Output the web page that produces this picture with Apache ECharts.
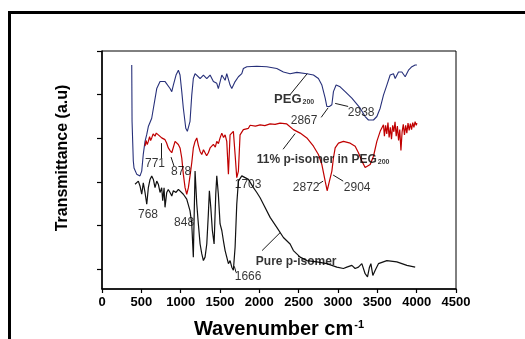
<!DOCTYPE html>
<html>
<head>
<meta charset="utf-8">
<script src="https://cdn.jsdelivr.net/npm/echarts@6/dist/echarts.min.js"></script>
<style>
html,body{margin:0;padding:0;background:#fff;}
#chart{width:525px;height:339px;}
</style>
</head>
<body>
<div id="chart"></div>
<script>
// ---- data (wavenumber cm-1, transmittance a.u.) ----
var xTicks = [0, 500, 1000, 1500, 2000, 2500, 3000, 3500, 4000, 4500];
var yTicks = [0, 1, 2, 3, 4, 5];

var pegSpectrum = [
  [378,4.68],[382,3.39],[398,2.48],[407,2.32],[441,2.18],[483,2.14],[505,2.25],[525,2.64],
  [547,2.93],[569,3.09],[589,3.27],[632,3.46],[696,4.14],[738,4.30],[802,4.30],[865,4.14],
  [887,4.07],[907,4.22],[941,4.45],[971,4.56],[992,4.45],[1014,4.07],[1034,3.69],[1065,3.23],
  [1085,3.16],[1119,3.39],[1141,3.99],[1161,4.37],[1183,4.48],[1205,4.45],[1247,4.37],[1289,4.45],
  [1332,4.37],[1374,4.45],[1416,4.30],[1459,4.26],[1479,4.14],[1523,4.45],[1565,4.33],[1586,4.48],
  [1628,4.22],[1650,4.14],[1692,4.30],[1734,4.41],[1777,4.48],[1797,4.60],[1841,4.64],[1968,4.65],
  [2095,4.64],[2222,4.60],[2306,4.52],[2391,4.48],[2477,4.51],[2604,4.48],[2688,4.45],[2751,4.37],
  [2795,4.22],[2837,3.92],[2858,3.73],[2891,3.73],[2922,3.77],[2942,4.07],[2976,4.22],[3027,4.18],
  [3091,4.07],[3176,3.92],[3282,3.69],[3345,3.50],[3387,3.42],[3451,3.42],[3494,3.50],[3536,3.69],
  [3578,3.99],[3621,4.22],[3663,4.45],[3705,4.48],[3727,4.37],[3769,4.52],[3812,4.52],[3854,4.41],
  [3896,4.56],[3939,4.64],[3981,4.68],[4003,4.68]
];

var mixSpectrum = [
  [547,2.82],[560,2.95],[575,2.86],[589,2.93],[605,3.04],[618,2.95],[632,3.01],[650,3.10],[674,3.05],
  [690,3.12],[716,3.08],[738,3.05],[759,3.01],[780,3.04],[801,2.97],[820,2.90],[843,2.78],[865,2.72],
  [887,2.67],[929,2.93],[950,2.97],[970,2.86],[992,2.78],[1014,2.55],[1034,2.18],[1056,1.87],
  [1077,1.72],[1098,1.87],[1119,2.14],[1141,2.44],[1161,2.78],[1183,2.93],[1205,3.01],[1225,2.84],
  [1247,2.70],[1268,2.63],[1290,2.74],[1310,2.70],[1330,2.60],[1352,2.67],[1374,2.78],[1395,2.74],
  [1416,2.86],[1440,2.80],[1459,2.93],[1480,2.88],[1501,3.01],[1523,3.12],[1545,3.02],[1565,3.08],
  [1586,2.93],[1607,2.18],[1628,3.08],[1670,3.16],[1692,2.63],[1713,2.10],[1734,2.25],[1755,3.08],
  [1797,3.20],[1861,3.23],[1883,3.30],[1950,3.28],[2010,3.31],[2070,3.29],[2137,3.33],[2200,3.32],
  [2264,3.35],[2349,3.33],[2433,3.20],[2519,3.12],[2604,3.01],[2688,2.82],[2751,2.63],[2795,2.40],
  [2837,2.02],[2862,1.80],[2891,2.02],[2922,2.25],[2942,2.55],[2964,2.78],[3006,2.89],[3069,2.93],
  [3155,2.89],[3218,2.82],[3260,2.67],[3303,2.48],[3345,2.33],[3367,2.29],[3409,2.40],[3451,2.59],
  [3494,2.93],[3536,3.16],[3578,3.31],[3590,3.05],[3605,3.30],[3620,3.10],[3635,3.36],[3650,3.02],
  [3665,3.25],[3680,2.98],[3695,3.30],[3710,3.15],[3725,3.38],[3740,3.05],[3755,3.28],[3770,2.95],
  [3785,3.20],[3800,2.72],[3815,3.15],[3830,3.32],[3845,3.08],[3860,3.30],[3875,3.12],[3890,3.35],
  [3905,3.18],[3920,3.34],[3935,3.20],[3950,3.36],[3965,3.25],[3980,3.38],[3995,3.30],[4003,3.35]
];

var pureSpectrum = [
  [420,1.95],[462,2.02],[483,1.91],[505,1.72],[525,1.98],[547,1.76],[569,1.49],[589,1.87],
  [611,2.06],[632,2.14],[653,2.06],[674,1.87],[696,2.02],[716,1.95],[738,1.76],[759,1.87],
  [772,1.57],[789,1.87],[801,1.42],[823,1.76],[843,1.83],[865,1.76],[887,1.68],[907,1.80],
  [941,1.76],[971,1.83],[992,1.87],[1034,1.72],[1077,1.61],[1098,1.57],[1119,1.34],[1141,1.04],
  [1161,0.28],[1183,2.25],[1205,1.49],[1225,1.04],[1247,0.58],[1268,0.36],[1289,0.20],[1310,0.28],
  [1332,0.58],[1352,1.27],[1365,1.80],[1383,1.42],[1403,0.89],[1425,0.58],[1446,1.72],[1459,2.14],
  [1479,1.72],[1501,1.04],[1523,0.89],[1543,0.66],[1565,0.43],[1586,0.28],[1607,0.13],[1628,0.20],
  [1650,0.05],[1670,-0.02],[1692,0.51],[1713,1.49],[1734,2.02],[1777,2.14],[1819,2.10],[1861,2.06],
  [1925,1.87],[1968,1.76],[2010,1.64],[2052,1.49],[2137,1.19],[2222,0.96],[2306,0.73],[2391,0.58],
  [2433,0.43],[2519,0.28],[2604,0.20],[2731,0.17],[2858,0.13],[2985,0.05],[3069,0.02],[3112,0.05],
  [3176,0.09],[3218,0.02],[3260,0.05],[3303,0.13],[3345,-0.10],[3375,-0.17],[3400,0.05],[3418,0.13],
  [3443,-0.14],[3473,-0.02],[3514,0.13],[3621,0.20],[3748,0.17],[3876,0.09],[3981,0.05]
];

// annotation labels: [text, wavenumber, transmittance, style]
var peakLabels = [
  ['{b|PEG}{s|200}', 2442, 3.89, 'peg'],
  ['2867', 2569, 3.41, 'n'],
  ['2938', 3294, 3.59, 'n'],
  ['771', 674, 2.43, 'n'],
  ['878', 1005, 2.23, 'n'],
  ['768', 585, 1.25, 'n'],
  ['848', 1043, 1.07, 'n'],
  ['1703', 1857, 1.93, 'n'],
  ['1666', 1857, -0.16, 'n'],
  ['{b|11% p-isomer in PEG}{s|200}', 2811, 2.52, 'mix'],
  ['2872', 2595, 1.86, 'n'],
  ['2904', 3244, 1.86, 'n'],
  ['{b|Pure p-isomer}', 2468, 0.18, 'pure']
];

// annotation arrows: [fromX, fromY, toX, toY]
var arrows = [
  [2391, 4.00, 2608, 4.48],
  [2786, 3.48, 2875, 3.70],
  [3129, 3.73, 2964, 3.80],
  [759, 2.55, 759, 2.89],
  [916, 2.36, 878, 2.57],
  [2302, 2.75, 2455, 3.11],
  [2748, 1.95, 2811, 2.02],
  [3066, 2.02, 2938, 2.16],
  [2035, 0.43, 2264, 0.84],
  [1704, -0.07, 1682, 0.07]
];

var chart = echarts.init(document.getElementById('chart'), null, {renderer: 'canvas'});
var fontFam = 'Liberation Sans, Arial, sans-serif';

var labelData = peakLabels.map(function (p) {
  var rich = {
    b: {fontFamily: fontFam, fontWeight: 'bold', fontSize: p[3] === 'peg' ? 13 : 12, color: '#000'},
    s: {fontFamily: fontFam, fontWeight: 'bold', fontSize: 7, color: '#000', verticalAlign: 'bottom', padding: [6, 0, 0, 1]}
  };
  return {
    value: [p[1], p[2]],
    label: {
      show: true,
      position: 'inside',
      formatter: p[0],
      fontFamily: fontFam,
      fontSize: 12,
      color: '#000',
      rich: rich
    }
  };
});

var arrowData = arrows.map(function (a) {
  return [{coord: [a[0], a[1]]}, {coord: [a[2], a[3]]}];
});

chart.setOption({
  animation: false,
  backgroundColor: '#fff',
  grid: {left: 102, right: 69, top: 51, bottom: 50, show: true, borderColor: '#000', borderWidth: 1,
    backgroundColor: 'transparent', containLabel: false, outerBoundsMode: 'none'},
  xAxis: {
    type: 'value', min: 0, max: 4500, interval: 500,
    name: '{n|Wavenumber cm}{sup|-1}', nameLocation: 'middle', nameGap: 30,
    nameTextStyle: {
      rich: {
        n: {fontFamily: fontFam, fontWeight: 'bold', fontSize: 20, color: '#000'},
        sup: {fontFamily: fontFam, fontWeight: 'bold', fontSize: 11, color: '#000', verticalAlign: 'top', padding: [0, 0, 10, 1]}
      }
    },
    axisLine: {show: true, onZero: false, lineStyle: {color: '#000', width: 1.5}},
    axisTick: {show: true, inside: false, length: 4, lineStyle: {color: '#000', width: 1.2}},
    axisLabel: {show: true, fontFamily: fontFam, fontWeight: 'bold', fontSize: 13, color: '#000', margin: 7,
      formatter: function (v) { return String(v); }},
    splitLine: {show: false}
  },
  yAxis: {
    type: 'value', min: -0.45, max: 5,
    name: 'Transmittance (a.u)', nameLocation: 'middle', nameGap: 31,
    nameTextStyle: {fontFamily: fontFam, fontWeight: 'bold', fontSize: 16, color: '#000', padding: [0, 0, 0, 24]},
    axisLine: {show: true, onZero: false, lineStyle: {color: '#000', width: 1.5}},
    axisTick: {show: true, inside: false, length: 5, lineStyle: {color: '#000', width: 1.2}, customValues: yTicks},
    axisLabel: {show: false},
    splitLine: {show: false}
  },
  graphic: [
    {type: 'rect', shape: {x: 8, y: 11, width: 517, height: 3}, style: {fill: '#000'}, silent: true},
    {type: 'rect', shape: {x: 8, y: 11, width: 3, height: 328}, style: {fill: '#000'}, silent: true}
  ],
  series: [
    {
      name: 'PEG200', type: 'line', data: pegSpectrum, showSymbol: false, symbol: 'none',
      lineStyle: {color: '#27307a', width: 1.1}, itemStyle: {color: '#27307a'}, z: 3
    },
    {
      name: '11% p-isomer in PEG200', type: 'line', data: mixSpectrum, showSymbol: false, symbol: 'none',
      lineStyle: {color: '#c00000', width: 1.2}, itemStyle: {color: '#c00000'}, z: 3
    },
    {
      name: 'Pure p-isomer', type: 'line', data: pureSpectrum, showSymbol: false, symbol: 'none',
      lineStyle: {color: '#111', width: 1.2}, itemStyle: {color: '#111'}, z: 3
    },
    {
      name: 'labels', type: 'scatter', data: labelData, symbolSize: 0, silent: true, z: 5
    },
    {
      name: 'arrows', type: 'line', data: [], silent: true, z: 4,
      markLine: {
        silent: true, animation: false,
        symbol: ['none', 'arrow'], symbolSize: [0, 6],
        lineStyle: {color: '#000', width: 0.9, type: 'solid'},
        label: {show: false},
        emphasis: {disabled: true},
        data: arrowData
      }
    }
  ]
});
</script>
</body>
</html>
